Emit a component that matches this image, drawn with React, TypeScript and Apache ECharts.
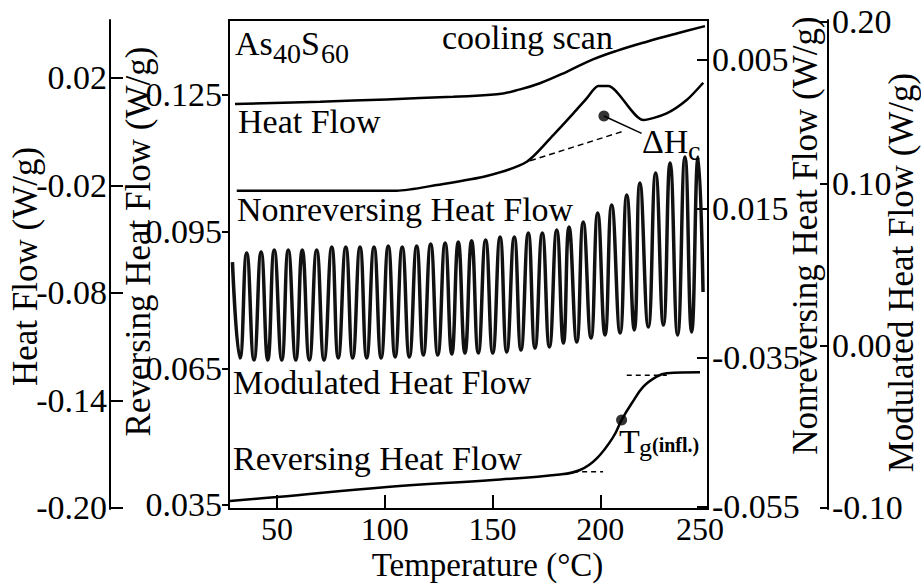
import React, { useEffect, useRef } from 'react';
import * as echarts from 'echarts';

const FONT = "'Liberation Serif', 'Times New Roman', Times, serif";

// Axis ticks and labels (as printed in the figure)
const xTicks = [50, 100, 150, 200, 250];
const hfTickValues = [-0.2, -0.14, -0.08, -0.02, 0.04];
const hfTickLabels = ['-0.20', '-0.14', '-0.08', '-0.02', '0.02'];
const revTickValues = [0.035, 0.065, 0.095, 0.125];
const revTickLabels = ['0.035', '0.065', '0.095', '0.125'];
const nrTickValues = [-0.055, -0.035, -0.015, 0.005];
const nrTickLabels = ['-0.055', '-0.035', '0.015', '0.005'];
const modTickValues = [-0.1, 0, 0.1, 0.2];
const modTickLabels = ['-0.10', '0.00', '0.10', '0.20'];

// Heat Flow (outer left axis)
const heatFlowT = [30.5, 70.0, 100.9, 131.7, 152.1, 162.8, 172.0, 184.4, 196.6, 207.6, 221.6, 235.5, 248.6];
const heatFlowV = [0.0254, 0.0267, 0.028, 0.0295, 0.0308, 0.0336, 0.037, 0.0434, 0.0503, 0.0551, 0.0602, 0.0648, 0.0689];

// Nonreversing Heat Flow (inner right axis)
const nonrevT = [31.3, 105.5, 124.1, 147.3, 165.9, 178.2, 187.5, 193.7, 199.1, 203.7, 220.0, 230.8, 240.1, 247.8];
const nonrevV = [-0.01255, -0.01255, -0.01179, -0.01058, -0.00866, -0.00508, -0.00217, -0.00015, 0.0015, 0.0015, -0.00307, -0.00217, -0.00038, 0.00194];
const nonrevBaseT = [167.4, 211.5];
const nonrevBaseV = [-0.00853, -0.0045];
const dHcDotT = [201.7];
const dHcDotV = [-0.00253];
const dHcLeaderT = [201.7, 219.2];
const dHcLeaderV = [-0.00253, -0.00485];

// Modulated Heat Flow (outer right axis): start, then trough/peak extremes, end
const modT = [29.3, 32.8, 35.9, 39.3, 42.6, 45.7, 48.7, 52.2, 55.2, 58.7, 61.7, 65.0, 68.4, 71.8, 75.4, 78.4, 81.9, 85.1, 88.5, 91.6, 95.0, 98.3, 101.6, 104.8, 108.1, 111.4, 114.8, 117.9, 121.3, 124.6, 128.0, 131.1, 134.1, 137.2, 140.3, 143.4, 146.8, 150.1, 153.5, 156.6, 160.1, 163.2, 166.6, 169.7, 173.1, 176.4, 179.8, 182.9, 185.5, 189.1, 192.1, 195.7, 198.8, 202.2, 205.3, 209.2, 212.3, 215.8, 218.4, 222.3, 225.7, 229.3, 232.4, 235.9, 239.3, 242.4, 245.4, 247.7];
const modV = [0.0515,
  -0.0077, 0.0571, -0.009, 0.0577, -0.009, 0.059, -0.009, 0.059, -0.009, 0.059, -0.009, 0.059,
  -0.009, 0.0608, -0.0077, 0.0608, -0.0077, 0.0608, -0.0077, 0.0608, -0.0077, 0.0614, -0.0071, 0.0608,
  -0.0071, 0.0614, -0.0059, 0.0627, -0.0059, 0.0633, -0.0053, 0.0639, -0.0047, 0.0647, -0.0047, 0.0651,
  -0.0047, 0.067, -0.004, 0.067, -0.0028, 0.0695, -0.0016, 0.0695, -0.0009, 0.0713, 0.0015, 0.0732,
  0.0021, 0.0763, 0.0046, 0.0818, 0.0065, 0.0868, 0.0077, 0.0929, 0.0096, 0.1003, 0.0114, 0.1065,
  0.0126, 0.1127, 0.0065, 0.1164, 0.0083, 0.1164,
  0.033];

// Reversing Heat Flow (inner left axis)
const revT = [28.2, 50.0, 101.0, 150.2, 181.3, 190.6, 198.4, 206.1, 209.9, 214.6, 220.0, 226.2, 230.8, 246.3];
const revV = [0.0359, 0.03675, 0.03895, 0.04049, 0.04169, 0.04268, 0.04525, 0.04999, 0.05365, 0.05732, 0.06096, 0.06316, 0.0639, 0.06412];
const revTanLowT = [187.4, 201.3];
const revTanLowV = [0.0423, 0.0423];
const revTanHighT = [212.3, 230.9];
const revTanHighV = [0.0635, 0.0635];
const tgDotT = [209.9];
const tgDotV = [0.05365];

const pts = (xs: number[], ys: number[]) => xs.map((x, i) => [x, ys[i]]);

export default function App() {
  const ref = useRef<HTMLDivElement>(null);
  useEffect(() => {
    const chart = echarts.init(ref.current!, null, { renderer: 'svg' });
    const fmt = (vals: number[], labels: string[]) => (v: number) => {
      const i = vals.findIndex((t) => Math.abs(t - v) < 1e-6);
      return i >= 0 ? labels[i] : '';
    };
    const labelStyle = { color: '#000', fontFamily: FONT, fontSize: 34, lineHeight: 28 };
    const xLabelStyle = { color: '#000', fontFamily: FONT, fontSize: 32, lineHeight: 28 };
    const nameStyle = (padding: number[]) => ({ color: '#000', fontFamily: FONT, fontSize: 35, padding });
    const axisLine = { show: true, onZero: false, lineStyle: { color: '#000', width: 2 } };
    const tick = (vals: number[], inside: boolean, length: number) => ({
      show: true, inside, length, customValues: vals, lineStyle: { color: '#000', width: 2 },
    });
    const label = (vals: number[], labels: string[], margin: number) => ({
      show: true, customValues: vals, formatter: fmt(vals, labels), margin, ...labelStyle,
    });
    const line = (name: string, yAxisIndex: number, data: number[][], extra: any = {}) => ({
      type: 'line', name, yAxisIndex, data, symbol: 'none', smooth: 0.4,
      lineStyle: { color: '#000', width: 2.5 }, z: 3, ...extra,
    });
    const txt = (text: string, x: number, baseline: number, size: number, bold = false) => ({
      type: 'text', x, y: baseline - 0.3375 * size, z: 10,
      style: {
        text, fill: '#000', font: `${bold ? 'bold ' : ''}${size}px ${FONT}`,
        align: 'left', verticalAlign: 'middle', textAlign: 'left', textVerticalAlign: 'middle',
      },
    });
    const lastX = xTicks[xTicks.length - 1];

    chart.setOption({
      animation: false,
      backgroundColor: '#fff',
      grid: {
        left: 229, right: 213, top: 20, bottom: 76,
        show: true, borderColor: '#000', borderWidth: 2, backgroundColor: 'transparent',
        containLabel: false, outerBoundsMode: 'none',
      },
      xAxis: {
        type: 'value', min: 27.7, max: 250,
        axisLine, splitLine: { show: false },
        axisTick: tick(xTicks, true, 14),
        axisLabel: {
          show: true, customValues: xTicks, margin: 6, ...xLabelStyle,
          formatter: (v: number) => (v === lastX ? `{m|${v}}` : String(v)),
          rich: { m: { ...xLabelStyle, padding: [0, 16, 0, 0] } },
        },
        name: 'Temperature (°C)', nameLocation: 'middle', nameGap: 42, nameMoveOverlap: false,
        nameTextStyle: { color: '#000', fontFamily: FONT, fontSize: 33, lineHeight: 28, padding: [0, 0, 0, 38] },
      },
      yAxis: [
        {
          type: 'value', position: 'left', offset: 119, min: -0.2006, max: 0.0723,
          axisLine, splitLine: { show: false },
          axisTick: tick(hfTickValues, true, 13),
          axisLabel: label(hfTickValues, hfTickLabels, 3),
          name: 'Heat Flow (W/g)', nameLocation: 'middle', nameRotate: 90, nameGap: 67, nameMoveOverlap: false,
          nameTextStyle: nameStyle([0, 4, 0, 0]),
        },
        {
          type: 'value', position: 'left', offset: 0, min: 0.03412, max: 0.14145,
          axisLine, splitLine: { show: false },
          axisTick: tick(revTickValues, false, 7),
          axisLabel: label(revTickValues, revTickLabels, 7),
          name: 'Reversing Heat Flow (W/g)', nameLocation: 'middle', nameRotate: 90, nameGap: 73, nameMoveOverlap: false,
          nameTextStyle: nameStyle([0, 0, 0, 46]),
        },
        {
          type: 'value', position: 'right', offset: 0, min: -0.05527, max: 0.01036,
          axisLine, splitLine: { show: false },
          axisTick: tick(nrTickValues, true, 11),
          axisLabel: label(nrTickValues, nrTickLabels, 4),
          name: 'Nonreversing Heat Flow (W/g)', nameLocation: 'middle', nameRotate: 90, nameGap: 80, nameMoveOverlap: false,
          nameTextStyle: nameStyle([0, 0, 0, 58]),
        },
        {
          type: 'value', position: 'right', offset: 120, min: -0.101, max: 0.201,
          axisLine, splitLine: { show: false },
          axisTick: tick(modTickValues, true, 8),
          axisLabel: label(modTickValues, modTickLabels, 4),
          name: 'Modulated Heat Flow (W/g)', nameLocation: 'middle', nameRotate: 90, nameGap: 56, nameMoveOverlap: false,
          nameTextStyle: nameStyle([0, 16, 0, 0]),
        },
      ],
      series: [
        line('Heat Flow', 0, pts(heatFlowT, heatFlowV)),
        line('Nonreversing Heat Flow', 2, pts(nonrevT, nonrevV), { smooth: 0.25 }),
        line('ΔHc baseline', 2, pts(nonrevBaseT, nonrevBaseV), { smooth: false, lineStyle: { color: '#000', width: 1.5, type: [6, 4] } }),
        line('ΔHc leader', 2, pts(dHcLeaderT, dHcLeaderV), { smooth: false, lineStyle: { color: '#000', width: 1.5 } }),
        { type: 'scatter', name: 'ΔHc', yAxisIndex: 2, data: pts(dHcDotT, dHcDotV), symbolSize: 11, itemStyle: { color: '#000' }, z: 5 },
        line('Modulated Heat Flow', 3, pts(modT, modV), { smooth: 0.5, lineStyle: { color: '#111', width: 3.5 } }),
        line('Reversing Heat Flow', 1, pts(revT, revV)),
        line('Tg low tangent', 1, pts(revTanLowT, revTanLowV), { smooth: false, lineStyle: { color: '#000', width: 1.5, type: [5, 4] } }),
        line('Tg high tangent', 1, pts(revTanHighT, revTanHighV), { smooth: false, lineStyle: { color: '#000', width: 1.5, type: [5, 4] } }),
        { type: 'scatter', name: 'Tg', yAxisIndex: 1, data: pts(tgDotT, tgDotV), symbolSize: 11, itemStyle: { color: '#000' }, z: 5 },
      ],
      graphic: [
        txt('As', 235, 55, 34), txt('40', 273, 63, 28), txt('S', 301, 55, 34), txt('60', 321, 63, 28),
        txt('cooling scan', 442, 48.5, 34),
        txt('Heat Flow', 238, 132.7, 34),
        txt('Nonreversing Heat Flow', 237, 221, 34),
        txt('Modulated Heat Flow', 233, 394, 34),
        txt('Reversing Heat Flow', 233, 470, 34),
        txt('ΔH', 642, 153, 34), txt('c', 688, 160, 28),
        txt('T', 619, 453, 34), txt('g', 639, 456, 26), txt('(infl.)', 652, 452, 20, true),
      ],
    });
    return () => chart.dispose();
  }, []);
  return (
    <div
      ref={ref}
      style={{ position: 'fixed', left: 0, top: 0, width: 921, height: 585, background: '#fff' }}
    />
  );
}
